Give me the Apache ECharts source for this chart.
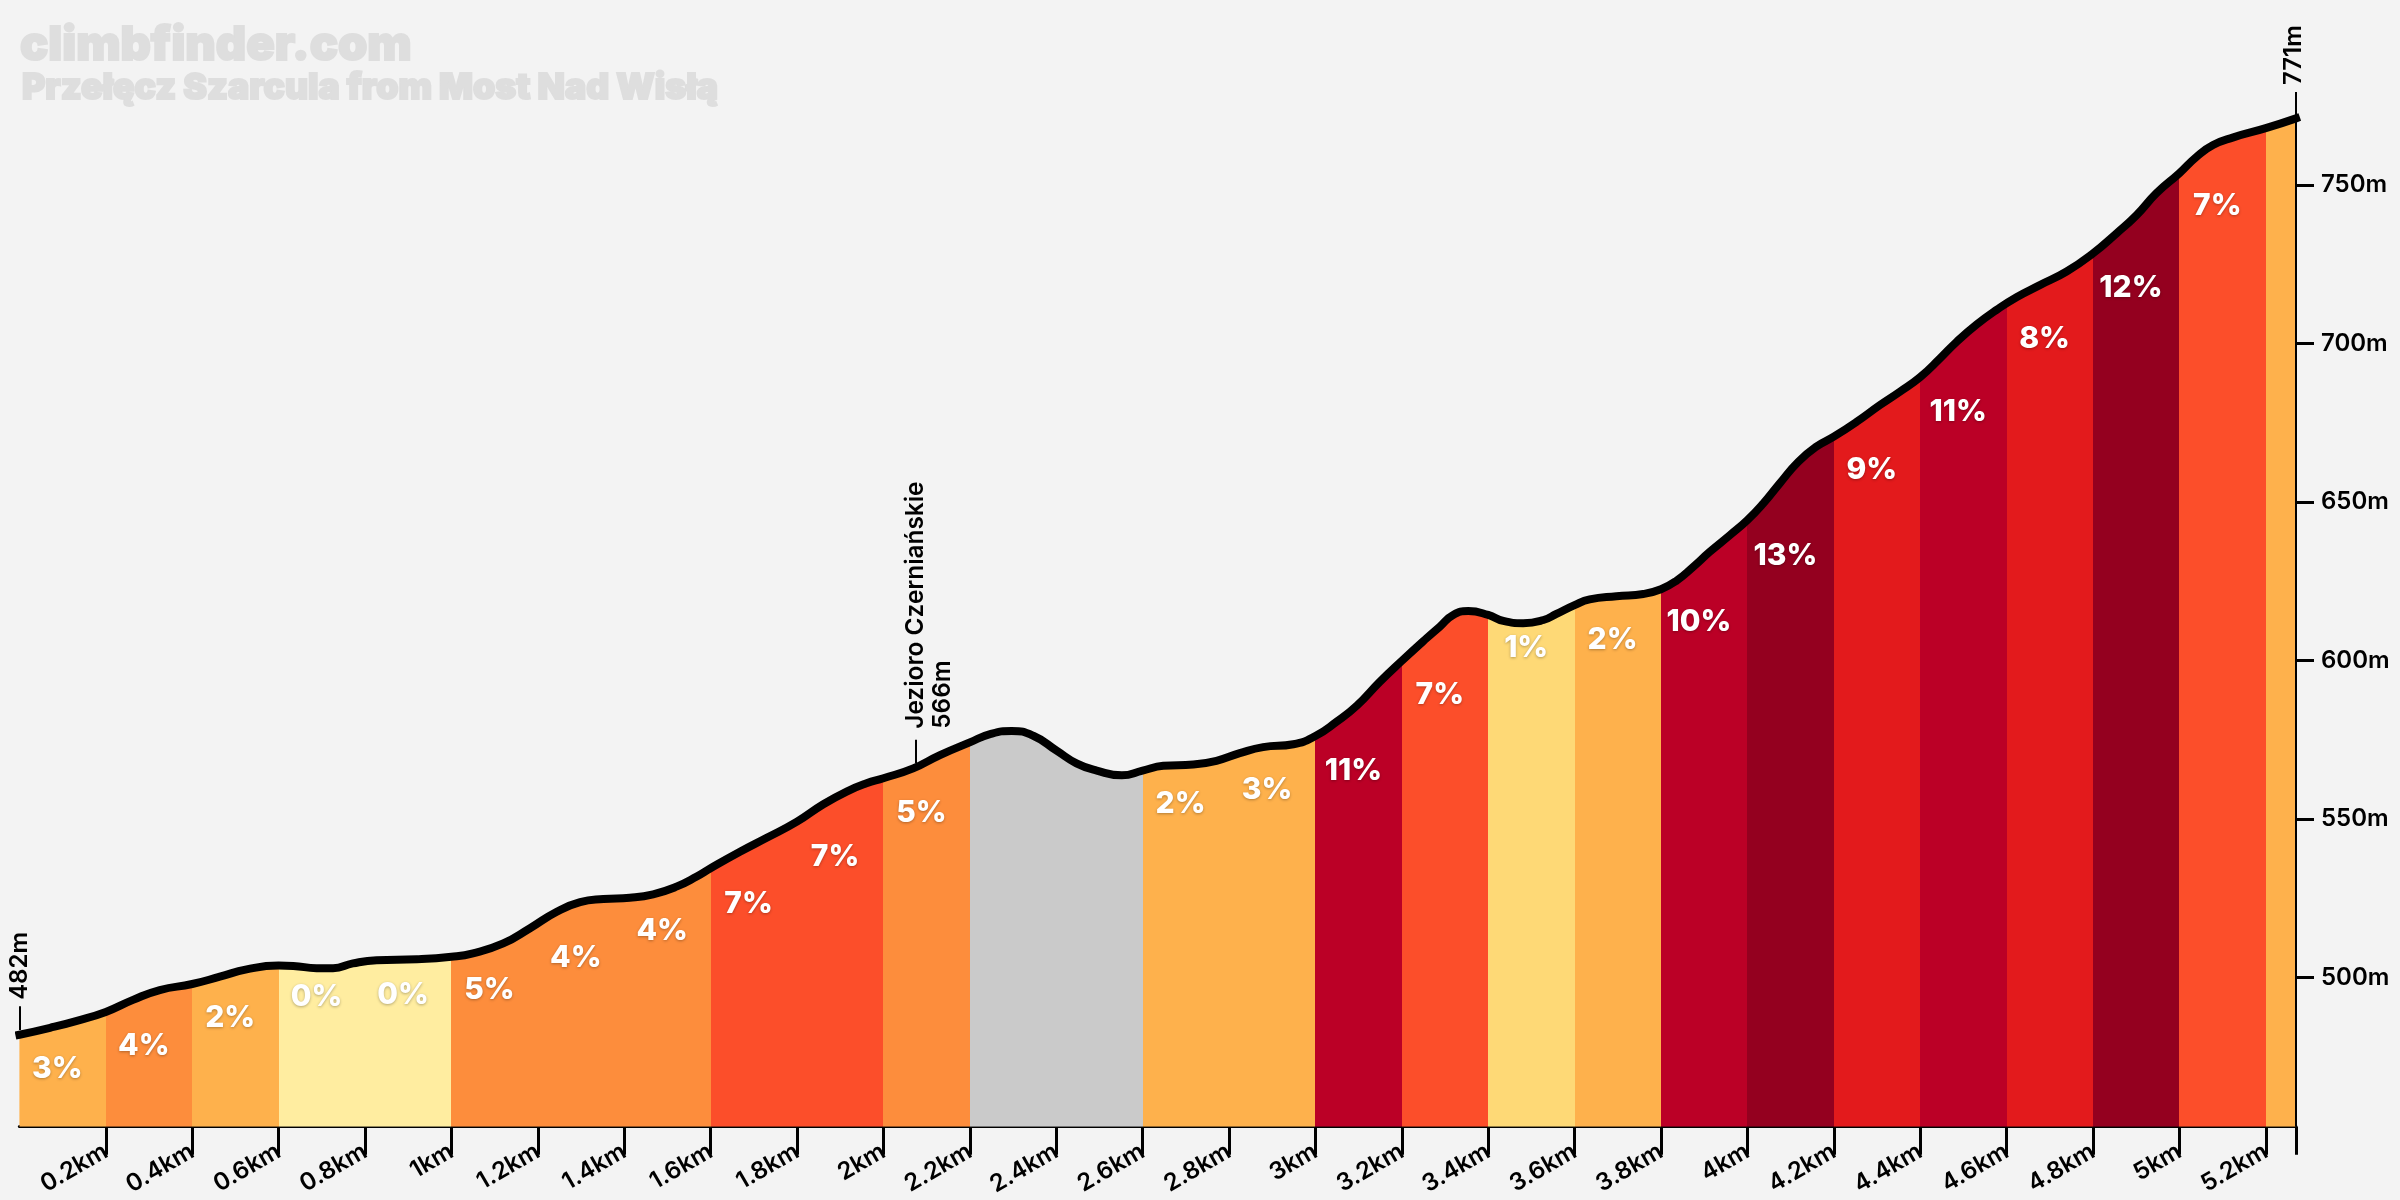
<!DOCTYPE html>
<html>
<head>
<meta charset="utf-8">
<script src="https://cdn.jsdelivr.net/npm/echarts@6/dist/echarts.min.js"></script>
<style>
html, body { margin: 0; padding: 0; background: #f3f3f3; }
#chart { width: 2400px; height: 1200px; }
</style>
</head>
<body>
<div id="chart"></div>
<script>
// profile
var profileKm = [0,.071,.133,.2,.263,.325,.4,.464,.526,.6,.634,.688,.726,.772,.827,.92,1,1.05,1.12,1.182,1.244,1.298,1.352,1.413,1.467,1.521,1.568,1.6,1.668,1.73,1.8,1.861,1.915,1.961,2,2.069,2.131,2.2,2.247,2.297,2.347,2.401,2.447,2.494,2.552,2.6,2.648,2.717,2.771,2.825,2.879,2.949,3,3.049,3.096,3.149,3.2,3.257,3.288,3.319,3.354,3.4,3.435,3.481,3.528,3.558,3.6,3.635,3.697,3.759,3.8,3.836,3.875,3.913,3.96,4,4.037,4.075,4.118,4.16,4.2,4.253,4.307,4.353,4.4,4.446,4.485,4.531,4.577,4.623,4.677,4.739,4.8,4.855,4.901,4.947,5,5.04,5.078,5.125,5.2,5.27];
var profileElev = [482,484.2,486.4,489.2,493,496.1,498,500.3,502.6,503.8,503.7,503,503,504.5,505.5,505.8,506.6,507.7,510.8,515.6,520.8,523.8,524.8,525.2,526.3,528.7,531.9,534.5,539.7,544.1,549.2,554.7,558.7,561.3,562.9,566,570.2,574.2,576.8,577.8,576.3,571.6,567.6,565.3,563.8,565.3,566.8,567.2,568.4,570.8,572.7,573.6,576.2,580.7,585.8,593.3,599.9,607,610.7,614.4,615.6,614.4,612.5,611.8,612.8,614.7,617.5,619.3,620.3,621,622.5,625.2,629.6,634.3,639.6,644.3,649.6,655.9,662.7,667.5,670.6,675.3,680.6,684.8,689.4,695.3,700.6,706,710.6,714.6,718.4,722.7,728.4,734.8,740.5,747.4,753.7,758.9,762.6,765,767.9,771];

var segStart = [0,.2,.4,.6,.8,1,1.2,1.4,1.6,1.8,2,2.2,2.4,2.6,2.8,3,3.2,3.4,3.6,3.8,4,4.2,4.4,4.6,4.8,5,5.2];
var segColor = ['#feb14c','#fd8d3c','#feb14c','#ffeda0','#ffeda0','#fd8d3c','#fd8d3c','#fd8d3c','#fc4e2a','#fc4e2a','#fd8d3c','#cacaca','#cacaca','#feb14c','#feb14c','#bb0026','#fc4e2a','#fed976','#feb14c','#bb0026','#94001f','#e31a1c','#bb0026','#e31a1c','#94001f','#fc4e2a','#feb14c'];
var segGrade = ['3%','4%','2%','0%','0%','5%','4%','4%','7%','7%','5%','','','2%','3%','11%','7%','1%','2%','10%','13%','9%','11%','8%','12%','7%',''];
var gradeElev = [471.3,478.3,487.3,493.8,494.5,496.1,506.1,514.6,523.3,538,551.9,0,0,554.8,559.3,565.1,589,603.9,606.5,612.1,633.1,660.1,678.3,701.3,717.5,743.3,0];

var xTicks = [.2,.4,.6,.8,1,1.2,1.4,1.6,1.8,2,2.2,2.4,2.6,2.8,3,3.2,3.4,3.6,3.8,4,4.2,4.4,4.6,4.8,5,5.2,5.27];
var xLabels = [.2,.4,.6,.8,1,1.2,1.4,1.6,1.8,2,2.2,2.4,2.6,2.8,3,3.2,3.4,3.6,3.8,4,4.2,4.4,4.6,4.8,5,5.2];
var yTicks = [500,550,600,650,700,750];

var fontName = 'Inter';
var kmEnd = 5.27;
var elevBase = 453;

var profile = profileKm.map(function(k, i) { return [k, profileElev[i]]; });

var pieces = segStart.map(function(s, i) {
    return { gte: s, lt: i < segStart.length - 1 ? segStart[i + 1] : 99, color: segColor[i] };
});

var gradeData = [];
for (var i = 0; i < segGrade.length; i++) {
    if (segGrade[i]) gradeData.push({ value: [segStart[i] + 0.088, gradeElev[i]], name: segGrade[i] });
}

var e = echarts.init(document.getElementById('chart'));
e.setOption({
    animation: false,
    backgroundColor: '#f3f3f3',
    title: [{
        text: 'climbfinder.com',
        left: 15, top: 17,
        textStyle: { color: '#dedede', fontFamily: fontName, fontWeight: 900, fontSize: 47, textBorderColor: '#dedede', textBorderWidth: 2 }
    }, {
        text: 'Przełęcz Szarcula from Most Nad Wisłą',
        left: 17, top: 65,
        textStyle: { color: '#dedede', fontFamily: fontName, fontWeight: 900, fontSize: 35.6, textBorderColor: '#dedede', textBorderWidth: 2 }
    }],
    grid: { left: 19.4, right: 104, top: 26.4, bottom: 73.3, outerBoundsMode: 'none' },
    visualMap: { show: false, type: 'piecewise', dimension: 0, seriesIndex: 0, pieces: pieces },
    xAxis: {
        type: 'value', min: 0, max: kmEnd,
        splitLine: { show: false },
        axisLine: { lineStyle: { color: '#000', width: 3 } },
        axisTick: { length: 28, customValues: xTicks, lineStyle: { color: '#000', width: 3 } },
        axisLabel: {
            customValues: xLabels, rotate: 30, margin: 23, color: '#000',
            fontFamily: fontName, fontWeight: 600, fontSize: 24,
            formatter: function(v) { return v + 'km'; }
        }
    },
    yAxis: {
        type: 'value', position: 'right', min: elevBase, max: 800,
        splitLine: { show: false },
        axisLine: { show: false, onZero: false },
        axisTick: { show: true, length: 18, customValues: yTicks, lineStyle: { color: '#000', width: 3 } },
        axisLabel: {
            customValues: yTicks, margin: 25, color: '#000',
            fontFamily: fontName, fontWeight: 600, fontSize: 24,
            formatter: '{value}m'
        }
    },
    series: [{
        name: 'fill', type: 'line', data: profile, smooth: 0.5, showSymbol: false, silent: true,
        lineStyle: { width: 0 },
        areaStyle: { opacity: 1 }
    }, {
        name: 'profile', type: 'line', data: profile, smooth: 0.5, showSymbol: false, silent: true, clip: false, z: 5,
        lineStyle: { color: '#000', width: 8, cap: 'square' },
        markLine: {
            silent: true, symbol: ['none', 'none'], animation: false,
            label: { show: false },
            lineStyle: { color: '#000', width: 2, type: 'solid' },
            data: [
                [{ coord: [0, 483.5] }, { coord: [0, 491] }],
                [{ coord: [2.075, 567.7] }, { coord: [2.075, 575] }],
                [{ coord: [kmEnd, 772] }, { coord: [kmEnd, 779.3] }],
                [{ coord: [kmEnd, elevBase] }, { coord: [kmEnd, 771] }]
            ]
        }
    }, {
        name: 'grades', type: 'scatter', data: gradeData, symbolSize: 0, silent: true, z: 6,
        itemStyle: { opacity: 1 },
        label: {
            show: true, position: 'inside', formatter: '{b}', color: '#fff',
            fontFamily: fontName, fontWeight: 800, fontSize: 30,
            textShadowColor: 'rgba(0,0,0,0.3)', textShadowBlur: 3, textShadowOffsetY: 1
        }
    }, {
        name: 'notes', type: 'scatter', symbolSize: 0, silent: true, z: 6,
        itemStyle: { opacity: 1 },
        data: [
            { value: [0, 493], name: '482m' },
            { value: [2.107, 578.5], name: 'Jezioro Czerniańskie\n566m', label: { fontSize: 24.4 } },
            { value: [5.265, 781.5], name: '771m' }
        ],
        label: {
            show: true, position: [0, 0], rotate: 90, align: 'left', verticalAlign: 'middle',
            formatter: '{b}', color: '#000', lineHeight: 27,
            fontFamily: fontName, fontWeight: 600, fontSize: 24
        }
    }]
});
</script>
</body>
</html>
